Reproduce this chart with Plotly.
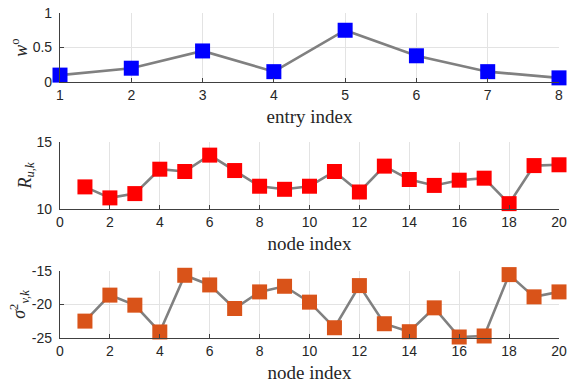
import plotly.graph_objects as go

# Entry weights
entry_idx = [1, 2, 3, 4, 5, 6, 7, 8]
w_o = [0.10, 0.20, 0.45, 0.15, 0.75, 0.38, 0.15, 0.06]

# Per-node quantities
node_idx = list(range(1, 21))
R_uk = [11.65, 10.83, 11.15, 12.97, 12.80, 14.02, 12.87, 11.70, 11.47, 11.70,
        12.80, 11.27, 13.20, 12.20, 11.76, 12.15, 12.30, 10.40, 13.24, 13.30]
sigma2_vk = [-22.48, -18.60, -20.10, -24.10, -15.64, -17.08, -20.60, -18.12, -17.28, -19.65,
             -23.47, -17.18, -22.87, -24.06, -20.50, -24.85, -24.70, -15.54, -18.86, -18.12]

# Tick labels
w_ticks = [0, 0.5, 1]
w_ticklabels = ["0", "0.5", "1"]
R_ticks = [10, 15]
R_ticklabels = ["10", "15"]
s_ticks = [-25, -20, -15]
s_ticklabels = ["-25", "-20", "-15"]
node_ticks = list(range(0, 21, 2))

LINE = dict(color="#808080", width=2.6)
TICK_FONT = dict(family="Liberation Sans, Arial, sans-serif", size=14, color="#262626")
TITLE_FONT = dict(family="Liberation Serif, DejaVu Serif, serif", size=19, color="#262626")

fig = go.Figure()

series = [
    (entry_idx, w_o, "#0000ff", "x", "y"),
    (node_idx, R_uk, "#ff0000", "x2", "y2"),
    (node_idx, sigma2_vk, "#d95319", "x3", "y3"),
]
for xs, ys, col, xa, ya in series:
    fig.add_trace(go.Scatter(
        x=xs, y=ys, mode="lines+markers", xaxis=xa, yaxis=ya,
        line=LINE,
        marker=dict(symbol="square", size=15, color=col, line=dict(width=0)),
        cliponaxis=False, showlegend=False,
    ))

common_x = dict(
    showline=True, linecolor="#404040", linewidth=1.2,
    ticks="inside", ticklen=4, tickcolor="#404040",
    showgrid=True, gridcolor="#e3e3e3", gridwidth=1,
    zeroline=False, tickfont=TICK_FONT, title_font=TITLE_FONT,
    title_standoff=7, automargin=False,
)
common_y = dict(
    showline=True, linecolor="#404040", linewidth=1.2,
    ticks="inside", ticklen=4, tickcolor="#404040",
    showgrid=True, gridcolor="#e3e3e3", gridwidth=1,
    zeroline=False, tickfont=TICK_FONT,
    title_font=dict(TITLE_FONT, size=18),
    title_standoff=0, automargin=False, ticklabelstandoff=4,
)

fig.update_layout(
    width=568, height=387,
    margin=dict(l=60, r=9, t=13, b=49),
    paper_bgcolor="white", plot_bgcolor="white",
    xaxis=dict(common_x, domain=[0, 1], anchor="y", range=[1, 8],
               tickvals=entry_idx, title_text="entry index"),
    yaxis=dict(common_y, domain=[0.7877, 1.0], anchor="x", range=[0, 1],
               tickvals=w_ticks, ticktext=w_ticklabels,
               title_text="<i>w</i><sup>o</sup>"),
    xaxis2=dict(common_x, domain=[0, 1], anchor="y2", range=[0, 20],
                tickvals=node_ticks, title_text="node index"),
    yaxis2=dict(common_y, domain=[0.3969, 0.6031], anchor="x2", range=[10, 15],
                tickvals=R_ticks, ticktext=R_ticklabels,
                title_text="<i>R</i><sub><i>u,k</i></sub>"),
    xaxis3=dict(common_x, domain=[0, 1], anchor="y3", range=[0, 20],
                tickvals=node_ticks, title_text="node index"),
    yaxis3=dict(common_y, domain=[0.0, 0.2062], anchor="x3", range=[-25, -15],
                tickvals=s_ticks, ticktext=s_ticklabels,
                title_text="<i>σ</i><sup>2</sup><sub><i>v,k</i></sub>"),
)

fig.write_html("out.html")
